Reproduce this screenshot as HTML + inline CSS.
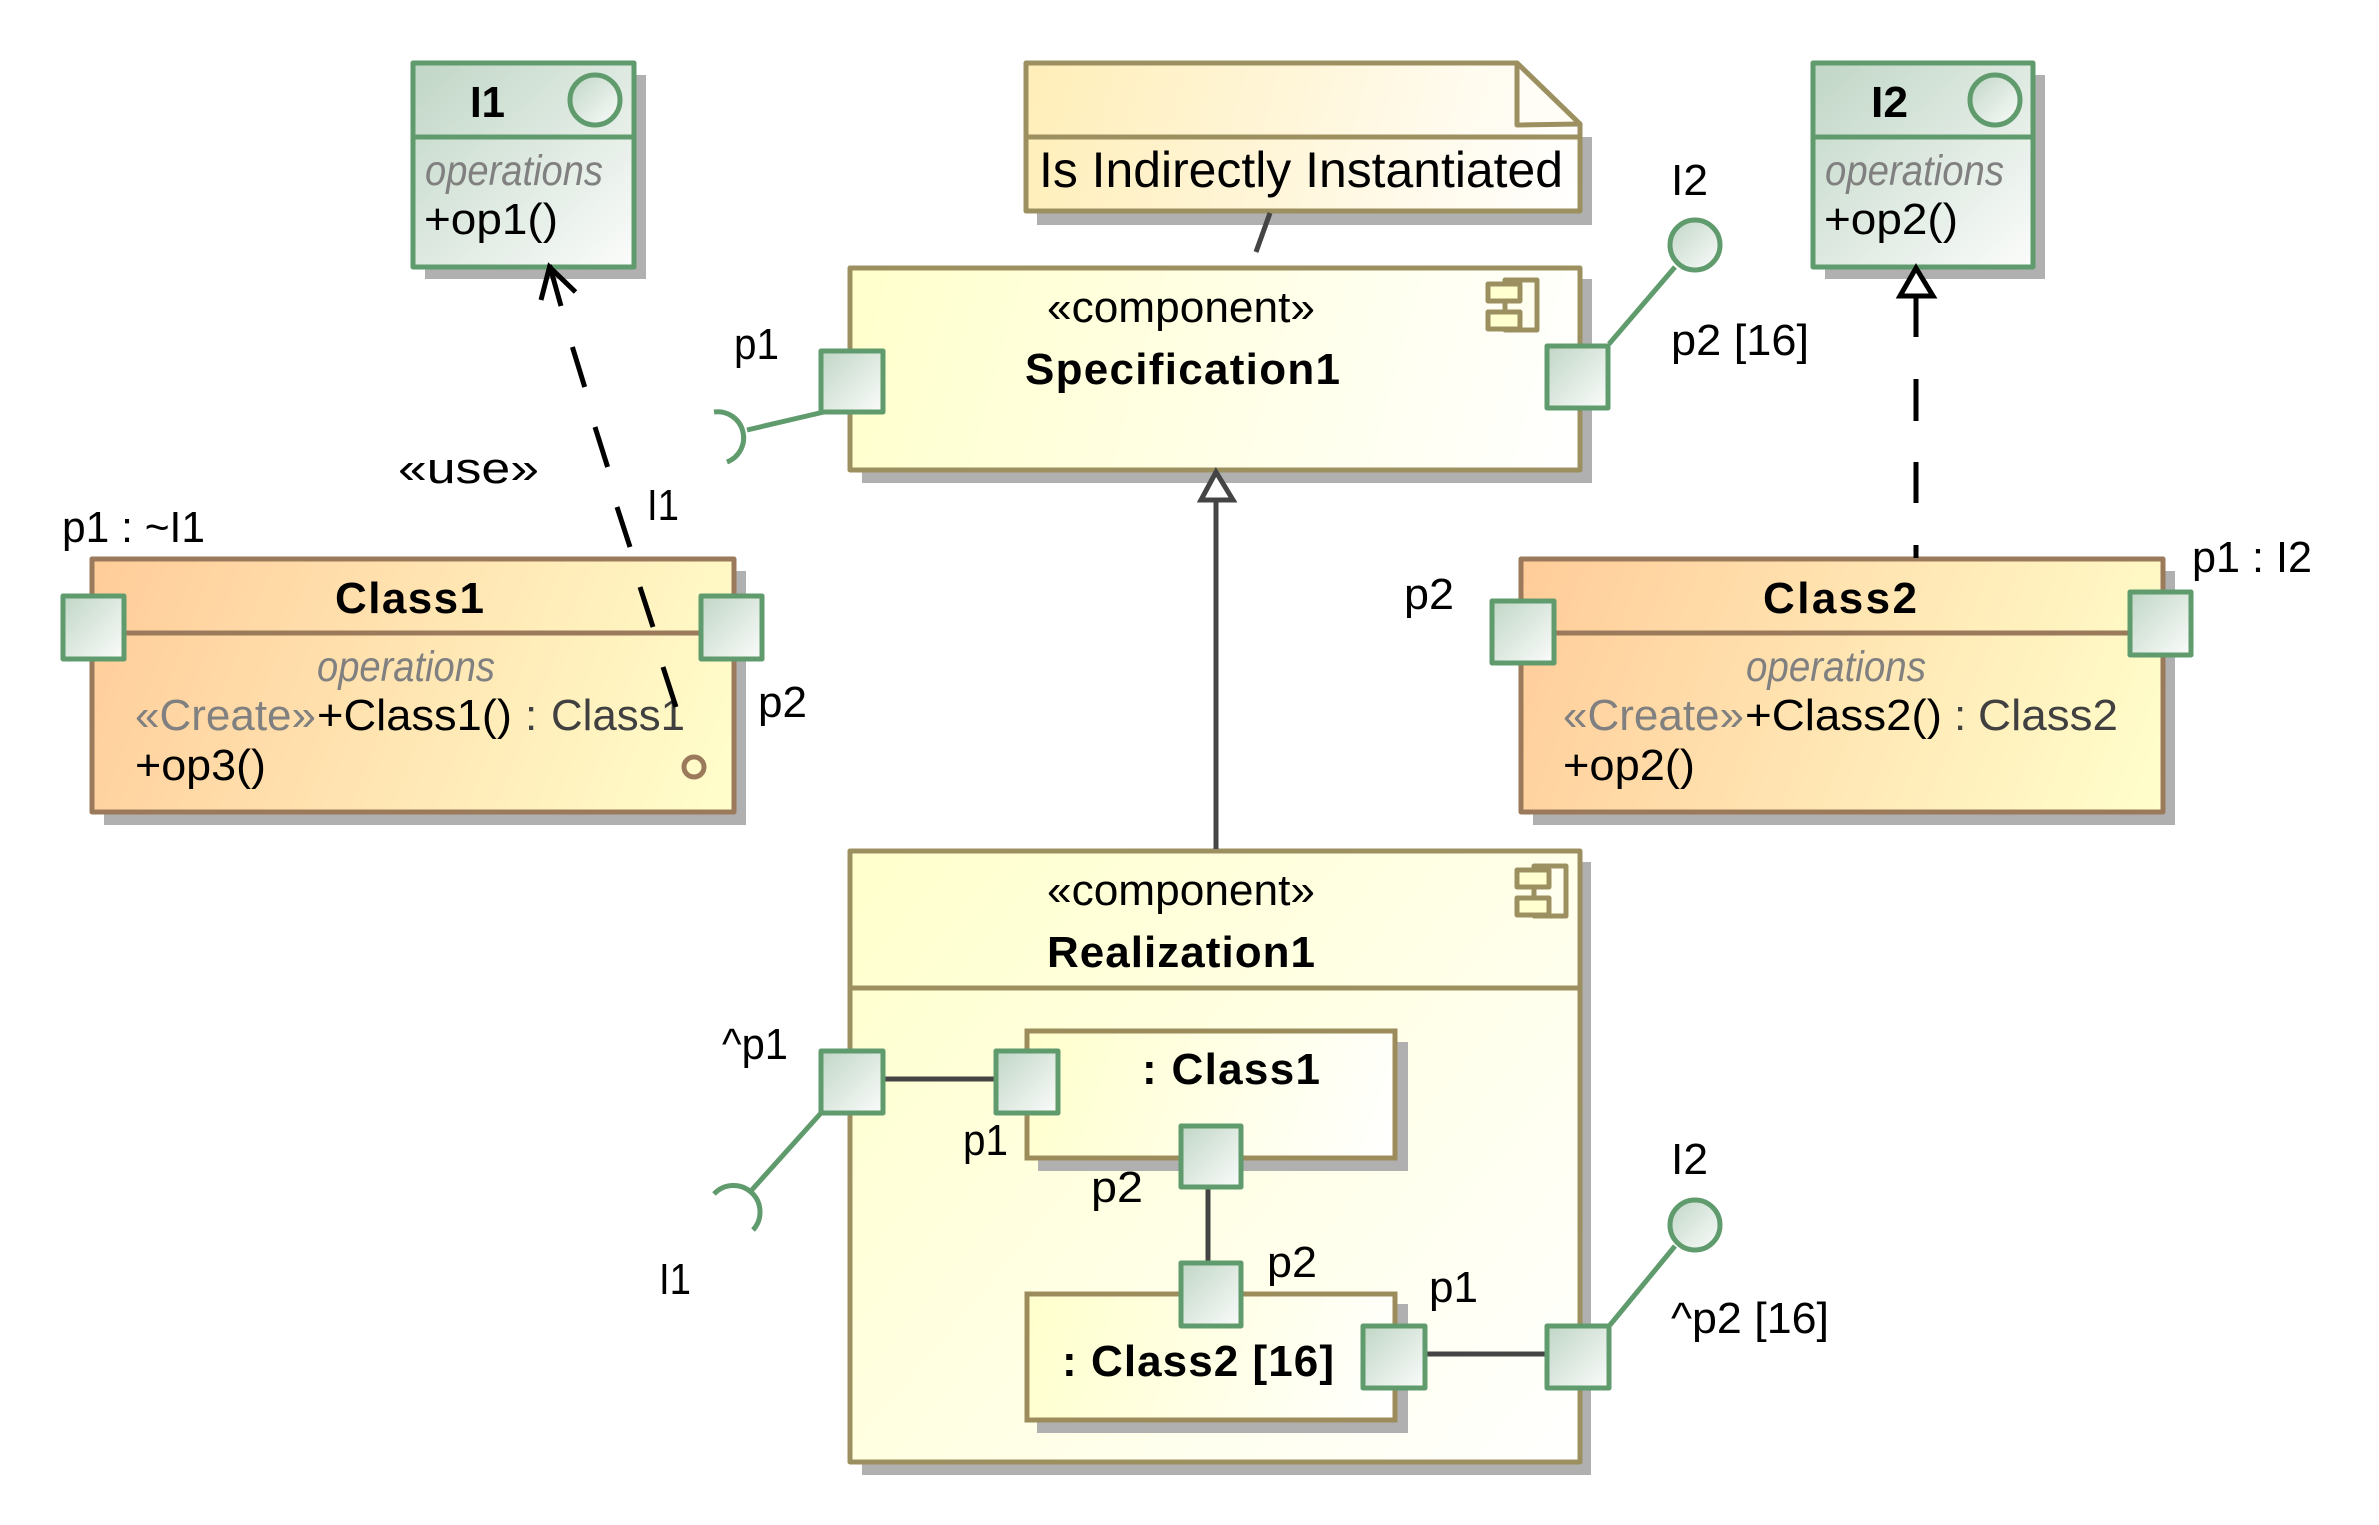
<!DOCTYPE html>
<html><head><meta charset="utf-8"><style>
html,body{margin:0;padding:0;background:#fff}
svg{display:block}
text{font-family:"Liberation Sans",sans-serif;font-size:44px;fill:#000}
.b{font-weight:bold}
.o{font-style:italic;fill:#808080;font-size:43px}
.g{fill:#808080}
.d{fill:#404040}
.s{fill:#b0b0b0}
.gr{stroke:#5f9b6c;stroke-width:5;stroke-linejoin:round}
.ol{stroke:#9c9060;stroke-width:5;stroke-linejoin:round}
.br{stroke:#9b7a5c;stroke-width:5;stroke-linejoin:round}
.port{fill:url(#gp);stroke:#5f9b6c;stroke-width:5;stroke-linejoin:round}
.dk{stroke:#444;stroke-width:5;fill:none}
.bk{stroke:#000;stroke-width:5;fill:none}
</style></head><body>
<svg xmlns="http://www.w3.org/2000/svg" width="2379" height="1525" viewBox="0 0 2379 1525">
<defs>
<linearGradient id="gp" x1="0" y1="0" x2="1" y2="1"><stop offset="0" stop-color="#c0d6c6"/><stop offset="1" stop-color="#fbfcfb"/></linearGradient>
<linearGradient id="gn" gradientUnits="userSpaceOnUse" x1="1026" y1="64" x2="1579" y2="210"><stop offset="0" stop-color="#ffeeb8"/><stop offset="1" stop-color="#ffffff"/></linearGradient>
<linearGradient id="gc1" gradientUnits="userSpaceOnUse" x1="92" y1="559" x2="733" y2="811"><stop offset="0" stop-color="#ffcc99"/><stop offset="1" stop-color="#ffffcc"/></linearGradient>
<linearGradient id="gc2" gradientUnits="userSpaceOnUse" x1="1521" y1="560" x2="2162" y2="811"><stop offset="0" stop-color="#ffcc99"/><stop offset="1" stop-color="#ffffcc"/></linearGradient>
<linearGradient id="gs" gradientUnits="userSpaceOnUse" x1="850" y1="268" x2="1579" y2="469"><stop offset="0" stop-color="#ffffcc"/><stop offset="1" stop-color="#ffffff"/></linearGradient>
<linearGradient id="gr" gradientUnits="userSpaceOnUse" x1="850" y1="851" x2="1579" y2="1461"><stop offset="0" stop-color="#ffffcc"/><stop offset="1" stop-color="#ffffff"/></linearGradient>
<linearGradient id="gp1" gradientUnits="userSpaceOnUse" x1="1027" y1="1031" x2="1394" y2="1157"><stop offset="0" stop-color="#ffffcc"/><stop offset="1" stop-color="#ffffff"/></linearGradient>
<linearGradient id="gp2" gradientUnits="userSpaceOnUse" x1="1027" y1="1294" x2="1394" y2="1419"><stop offset="0" stop-color="#ffffcc"/><stop offset="1" stop-color="#ffffff"/></linearGradient>
</defs>
<rect width="2379" height="1525" fill="#fff"/>

<!-- I1 -->
<rect class="s" x="425" y="75" width="221" height="204"/>
<rect x="413" y="63" width="221" height="204" fill="url(#gp)" class="gr"/>
<line x1="413" y1="137" x2="634" y2="137" class="gr"/>
<circle cx="595" cy="100" r="25" fill="url(#gp)" class="gr"/>
<text class="b" x="470" y="117" textLength="35" lengthAdjust="spacingAndGlyphs">I1</text>
<text class="o" x="425" y="185" textLength="178" lengthAdjust="spacingAndGlyphs">operations</text>
<text x="424" y="234" textLength="134" lengthAdjust="spacingAndGlyphs">+op1()</text>

<!-- I2 -->
<rect class="s" x="1825" y="75" width="220" height="204"/>
<rect x="1813" y="63" width="220" height="204" fill="url(#gp)" class="gr"/>
<line x1="1813" y1="137" x2="2033" y2="137" class="gr"/>
<circle cx="1995" cy="100" r="25" fill="url(#gp)" class="gr"/>
<text class="b" x="1871" y="117" textLength="37" lengthAdjust="spacingAndGlyphs">I2</text>
<text class="o" x="1825" y="185" textLength="179" lengthAdjust="spacingAndGlyphs">operations</text>
<text x="1824" y="234" textLength="134" lengthAdjust="spacingAndGlyphs">+op2()</text>

<!-- Note -->
<rect class="s" x="1037" y="137" width="555" height="88"/>
<polygon points="1026,63 1517,63 1580,124 1580,211 1026,211" fill="url(#gn)" class="ol"/>
<polygon points="1517,63 1580,124 1517,125" fill="#fffdf6" class="ol"/>
<line x1="1026" y1="137" x2="1580" y2="137" class="ol"/>
<text x="1039" y="187" style="font-size:50px" textLength="524" lengthAdjust="spacingAndGlyphs">Is Indirectly Instantiated</text>
<line x1="1270" y1="213" x2="1256" y2="252" class="dk"/>

<!-- Specification1 -->
<rect class="s" x="862" y="279" width="730" height="204"/>
<rect x="850" y="268" width="730" height="202" fill="url(#gs)" class="ol"/>
<text x="1047" y="322" textLength="268" lengthAdjust="spacingAndGlyphs">«component»</text>
<text class="b" x="1025" y="384" textLength="315" lengthAdjust="spacing">Specification1</text>
<g class="ol" fill="#fffff0">
<rect x="1505" y="280" width="32" height="50"/>
<rect x="1488" y="284" width="32" height="17" fill="#ffffd0"/>
<rect x="1488" y="312" width="32" height="17" fill="#ffffd0"/>
</g>

<!-- Class1 -->
<rect class="s" x="104" y="571" width="642" height="254"/>
<rect x="92" y="559" width="642" height="253" fill="url(#gc1)" class="br"/>
<line x1="92" y1="633" x2="734" y2="633" class="br"/>
<text class="b" x="335" y="613" textLength="149" lengthAdjust="spacing">Class1</text>
<text class="o" x="317" y="681" textLength="178" lengthAdjust="spacingAndGlyphs">operations</text>
<text class="g" x="135" y="730" textLength="181" lengthAdjust="spacingAndGlyphs">«Create»</text>
<text x="317" y="730" textLength="195" lengthAdjust="spacingAndGlyphs">+Class1()</text>
<text class="d" x="525" y="730">:</text>
<text class="d" x="551" y="730" textLength="134" lengthAdjust="spacingAndGlyphs">Class1</text>
<text x="135" y="780" textLength="131" lengthAdjust="spacingAndGlyphs">+op3()</text>
<circle cx="694" cy="767" r="10" fill="none" class="br"/>

<!-- Class2 -->
<rect class="s" x="1533" y="571" width="642" height="254"/>
<rect x="1521" y="559" width="642" height="253" fill="url(#gc2)" class="br"/>
<line x1="1521" y1="633" x2="2163" y2="633" class="br"/>
<text class="b" x="1763" y="613" textLength="154" lengthAdjust="spacing">Class2</text>
<text class="o" x="1746" y="681" textLength="180" lengthAdjust="spacingAndGlyphs">operations</text>
<text class="g" x="1563" y="730" textLength="181" lengthAdjust="spacingAndGlyphs">«Create»</text>
<text x="1745" y="730" textLength="197" lengthAdjust="spacingAndGlyphs">+Class2()</text>
<text class="d" x="1954" y="730">:</text>
<text class="d" x="1978" y="730" textLength="140" lengthAdjust="spacingAndGlyphs">Class2</text>
<text x="1563" y="780" textLength="132" lengthAdjust="spacingAndGlyphs">+op2()</text>

<!-- Realization1 -->
<rect class="s" x="862" y="862" width="729" height="613"/>
<rect x="850" y="851" width="730" height="611" fill="url(#gr)" class="ol"/>
<line x1="850" y1="988" x2="1580" y2="988" class="ol"/>
<text x="1047" y="905" textLength="268" lengthAdjust="spacingAndGlyphs">«component»</text>
<text class="b" x="1047" y="967" textLength="268" lengthAdjust="spacing">Realization1</text>
<g class="ol" fill="#fffff0">
<rect x="1534" y="866" width="32" height="50"/>
<rect x="1517" y="870" width="32" height="17" fill="#ffffd0"/>
<rect x="1517" y="898" width="32" height="17" fill="#ffffd0"/>
</g>

<!-- : Class1 part -->
<rect class="s" x="1038" y="1042" width="370" height="129"/>
<rect x="1027" y="1031" width="368" height="127" fill="url(#gp1)" stroke="#9c8c5c" stroke-width="5"/>
<text class="b" x="1142" y="1084" textLength="178" lengthAdjust="spacing">: Class1</text>

<!-- : Class2 part -->
<rect class="s" x="1037" y="1304" width="371" height="129"/>
<rect x="1027" y="1294" width="368" height="126" fill="url(#gp2)" stroke="#9c8c5c" stroke-width="5"/>
<text class="b" x="1062" y="1376" textLength="272" lengthAdjust="spacing">: Class2 [16]</text>

<!-- Connectors -->
<line x1="885" y1="1079" x2="994" y2="1079" class="dk"/>
<line x1="1208" y1="1188" x2="1208" y2="1262" class="dk"/>
<line x1="1427" y1="1354" x2="1545" y2="1354" class="dk"/>
<line x1="1216" y1="500" x2="1216" y2="849" class="dk"/>
<polygon points="1216,472 1201,500 1233,500" fill="#fff" stroke="#444" stroke-width="5"/>

<!-- Lollipops -->
<g fill="none" class="gr">
<path d="M714 412 A26 26 0 0 1 727 462"/>
<line x1="747" y1="430" x2="824" y2="412"/>
<path d="M714 1194 A26 26 0 0 1 753 1230"/>
<line x1="750" y1="1192" x2="821" y2="1113"/>
<line x1="1675" y1="267" x2="1609" y2="344"/>
<line x1="1675" y1="1246" x2="1610" y2="1325"/>
</g>
<circle cx="1695" cy="245" r="25" fill="url(#gp)" class="gr"/>
<circle cx="1695" cy="1225" r="25" fill="url(#gp)" class="gr"/>

<!-- Ports -->
<rect class="port" x="821" y="351" width="62" height="61"/>
<rect class="port" x="1547" y="346" width="61" height="62"/>
<rect class="port" x="63" y="596" width="61" height="63"/>
<rect class="port" x="701" y="596" width="61" height="63"/>
<rect class="port" x="1492" y="601" width="62" height="62"/>
<rect class="port" x="2130" y="592" width="61" height="63"/>
<rect class="port" x="821" y="1051" width="62" height="62"/>
<rect class="port" x="996" y="1051" width="62" height="62"/>
<rect class="port" x="1181" y="1126" width="60" height="61"/>
<rect class="port" x="1181" y="1263" width="60" height="63"/>
<rect class="port" x="1363" y="1326" width="62" height="62"/>
<rect class="port" x="1547" y="1326" width="62" height="62"/>

<!-- Usage dependency -->
<g class="bk" stroke-linecap="butt">
<line x1="549.5" y1="265" x2="561" y2="306"/>
<line x1="572.4" y1="347" x2="584.7" y2="387"/>
<line x1="595" y1="427" x2="607.6" y2="467"/>
<line x1="617" y1="507" x2="630" y2="547"/>
<line x1="640" y1="587" x2="653" y2="627"/>
<line x1="663" y1="667" x2="676" y2="707"/>
<polyline points="541,300 549.5,267 575.5,292"/>
</g>

<!-- Realization dependency -->
<g class="bk">
<line x1="1916" y1="296" x2="1916" y2="337"/>
<line x1="1916" y1="379" x2="1916" y2="421"/>
<line x1="1916" y1="462" x2="1916" y2="503"/>
<line x1="1916" y1="545" x2="1916" y2="558"/>
<polygon points="1916,268 1900,296 1933,296" fill="#fff"/>
</g>

<!-- Labels -->
<text x="734" y="359" textLength="45" lengthAdjust="spacingAndGlyphs">p1</text>
<text x="398" y="483" textLength="141" lengthAdjust="spacingAndGlyphs">«use»</text>
<text x="647" y="520" textLength="32" lengthAdjust="spacingAndGlyphs">I1</text>
<text x="62" y="542" textLength="143" lengthAdjust="spacingAndGlyphs">p1 : ~I1</text>
<text x="758" y="717" textLength="49" lengthAdjust="spacingAndGlyphs">p2</text>
<text x="1671" y="195" textLength="37" lengthAdjust="spacingAndGlyphs">I2</text>
<text x="1671" y="355" textLength="138" lengthAdjust="spacingAndGlyphs">p2 [16]</text>
<text x="1404" y="609" textLength="50" lengthAdjust="spacingAndGlyphs">p2</text>
<text x="2192" y="572" textLength="120" lengthAdjust="spacingAndGlyphs">p1 : I2</text>
<text x="722" y="1059" textLength="66" lengthAdjust="spacingAndGlyphs">^p1</text>
<text x="963" y="1155" textLength="45" lengthAdjust="spacingAndGlyphs">p1</text>
<text x="1091" y="1202" textLength="52" lengthAdjust="spacingAndGlyphs">p2</text>
<text x="1267" y="1277" textLength="50" lengthAdjust="spacingAndGlyphs">p2</text>
<text x="1429" y="1302" textLength="49" lengthAdjust="spacingAndGlyphs">p1</text>
<text x="659" y="1294" textLength="32" lengthAdjust="spacingAndGlyphs">I1</text>
<text x="1671" y="1174" textLength="37" lengthAdjust="spacingAndGlyphs">I2</text>
<text x="1671" y="1333" textLength="158" lengthAdjust="spacingAndGlyphs">^p2 [16]</text>
</svg>
</body></html>
